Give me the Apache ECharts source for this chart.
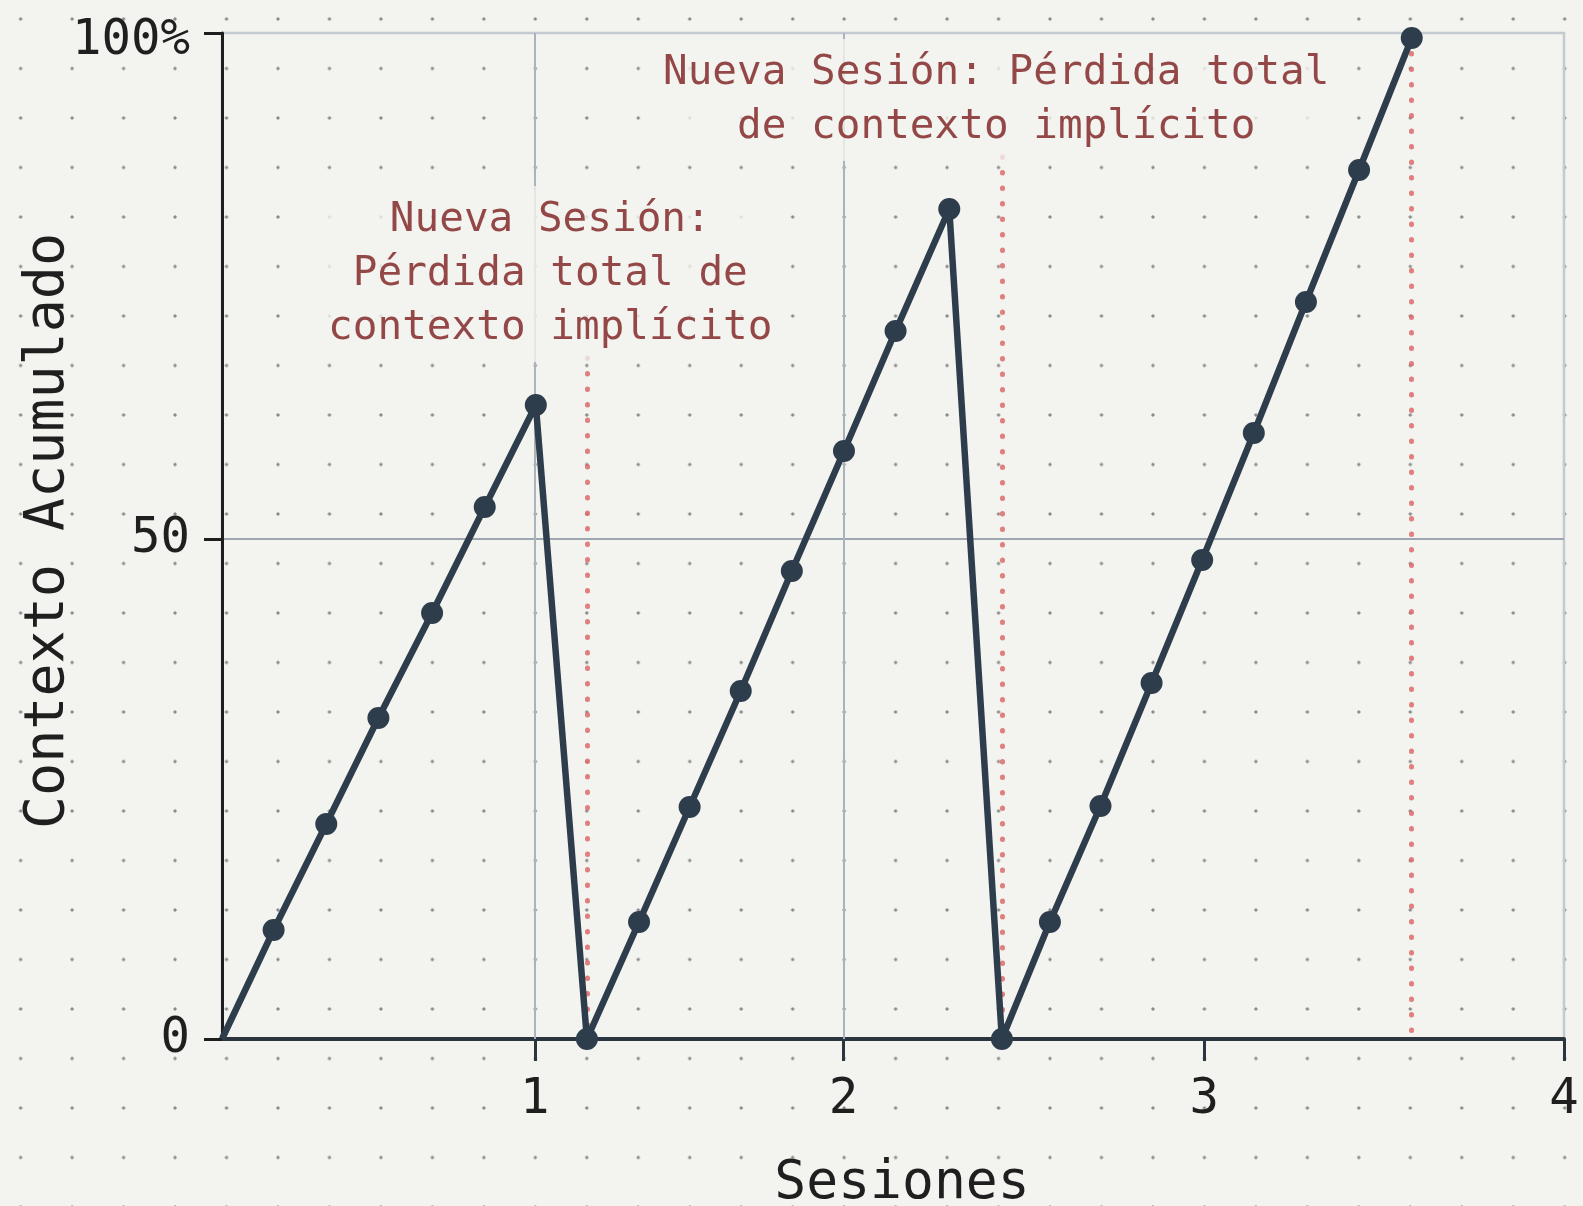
<!DOCTYPE html>
<html>
<head>
<meta charset="utf-8">
<script src="https://cdn.jsdelivr.net/npm/echarts@6/dist/echarts.min.js"></script>
<style>
  html, body { margin: 0; padding: 0; }
  body {
    background-color: #f3f3ef;
    background-image: radial-gradient(circle, #8a8a8a 1.2px, rgba(138,138,138,0) 2px);
    background-size: 51.47px 49.5px;
    background-position: -5.1px -5.75px;
  }
  #chart { width: 1583px; height: 1206px; }
</style>
</head>
<body>
<div id="chart"></div>
<script>
// ---- data ----
const paso = [0, 1.0, 2.02, 3.03, 4.07, 5.09, 6.08,
              7.07, 8.08, 9.06, 10.05, 11.04, 12.05, 13.05, 14.09,
              15.11, 16.04, 17.02, 18.01, 18.99, 19.99, 21.0, 22.03, 23.05];
const contexto = [0, 10.9, 21.5, 32.1, 42.6, 53.2, 63.4,
                  0, 11.7, 23.2, 34.8, 46.8, 58.8, 70.8, 83.0,
                  0, 11.7, 23.3, 35.6, 47.9, 60.6, 73.7, 86.9, 100.1];
const xTickValues = [6.06, 12.04, 19.03, 26];
const xTickLabels = ['1', '2', '3', '4'];
const yTickValues = [0, 50, 100.6];
const yTickLabels = ['0', '50', '100%'];
const nuevaSesion = [7.07, 15.11, 23.05];
const nuevaSesionTope = [68.1, 88.2, 100.1];
const gridX = [6.06, 12.04];
const annotations = [
  { x: 6.36, y: 76.5, text: 'Nueva Sesión:\nPérdida total de\ncontexto implícito' },
  { x: 15.0, y: 93.9, text: 'Nueva Sesión: Pérdida total\nde contexto implícito' }
];
const xName = 'Sesiones';
const yName = 'Contexto Acumulado';

// ---- chart ----
const FONT = '"DejaVu Sans Mono", "Liberation Mono", monospace';
const PAPER = '#f3f3ef';
const LINE = '#2e3d4c';
const INK = '#1f1f1f';

const chart = echarts.init(document.getElementById('chart'), null, { renderer: 'canvas' });

const lineData = paso.map((x, i) => i === 0
  ? { value: [x, contexto[i]], symbol: 'none' }
  : [x, contexto[i]]);

chart.setOption({
  backgroundColor: 'transparent',
  animation: false,
  grid: {
    left: 222, right: 19, top: 33, bottom: 167,
    show: true, borderColor: '#c3cad2', borderWidth: 2.5,
    backgroundColor: 'transparent',
    containLabel: false, outerBoundsMode: 'none'
  },
  xAxis: {
    type: 'value', min: 0, max: 26,
    axisLine: { show: true, onZero: false, lineStyle: { color: '#2b3540', width: 4 } },
    axisTick: { show: true, customValues: xTickValues, length: 22, lineStyle: { color: '#2b3540', width: 3 } },
    axisLabel: {
      customValues: xTickValues,
      formatter: v => xTickLabels[xTickValues.indexOf(v)],
      margin: 37, fontSize: 49, color: INK, fontFamily: FONT
    },
    splitLine: { show: false },
    name: xName, nameLocation: 'middle', nameGap: 119, nameMoveOverlap: false,
    nameTextStyle: { fontSize: 53, color: INK, fontFamily: FONT, padding: [0, 0, 0, 18] }
  },
  yAxis: {
    type: 'value', min: 0, max: 100.6,
    axisLine: { show: true, lineStyle: { color: '#1e1e1e', width: 3 } },
    axisTick: { show: true, customValues: yTickValues, length: 18, lineStyle: { color: '#1e1e1e', width: 3 } },
    axisLabel: {
      customValues: yTickValues,
      formatter: v => {
        const i = yTickValues.indexOf(v);
        return i === yTickValues.length - 1 ? '{top|' + yTickLabels[i] + '}' : yTickLabels[i];
      },
      margin: 32, fontSize: 49, color: INK, fontFamily: FONT,
      rich: { top: { fontSize: 49, color: INK, fontFamily: FONT, padding: [16, 0, 0, 0] } }
    },
    splitLine: { show: true, lineStyle: { color: ['rgba(0,0,0,0)', '#9ea7b1', 'rgba(0,0,0,0)'], width: 2 } },
    name: yName, nameLocation: 'middle', nameGap: 146, nameMoveOverlap: false,
    nameTextStyle: { fontSize: 55, color: INK, fontFamily: FONT, padding: [0, 0, 0, 10] }
  },
  series: [
    {
      type: 'line', data: [], z: 1, silent: true,
      markLine: {
        silent: true, symbol: 'none', z: 1,
        label: { show: false },
        lineStyle: { color: '#aab2bb', width: 2, type: 'solid' },
        data: gridX.map(x => ({ xAxis: x }))
      }
    },
    {
      type: 'line', data: [], z: 3, silent: true,
      markLine: {
        silent: true, symbol: 'none', z: 3,
        label: { show: false },
        lineStyle: { color: '#dc6a6a', width: 5, type: [0.5, 15], cap: 'round', opacity: 0.85 },
        data: nuevaSesion.map((x, i) => [{ coord: [x, nuevaSesionTope[i]] }, { coord: [x, 0] }])
      }
    },
    {
      type: 'line', data: lineData, z: 4, clip: false, silent: true,
      symbol: 'circle', symbolSize: 22,
      lineStyle: { color: LINE, width: 6.5 },
      itemStyle: { color: LINE }
    },
    {
      type: 'scatter', z: 6, silent: true, clip: false,
      symbolSize: 0,
      data: annotations.map(a => ({ value: [a.x, a.y], text: a.text })),
      label: {
        show: true, position: 'inside',
        formatter: p => p.data.text,
        fontSize: 41, lineHeight: 54, color: '#7b1c1c', fontFamily: FONT,
        align: 'center', verticalAlign: 'middle',
        backgroundColor: PAPER, padding: [7, 2]
      }
    }
  ]
});
</script>
</body>
</html>
